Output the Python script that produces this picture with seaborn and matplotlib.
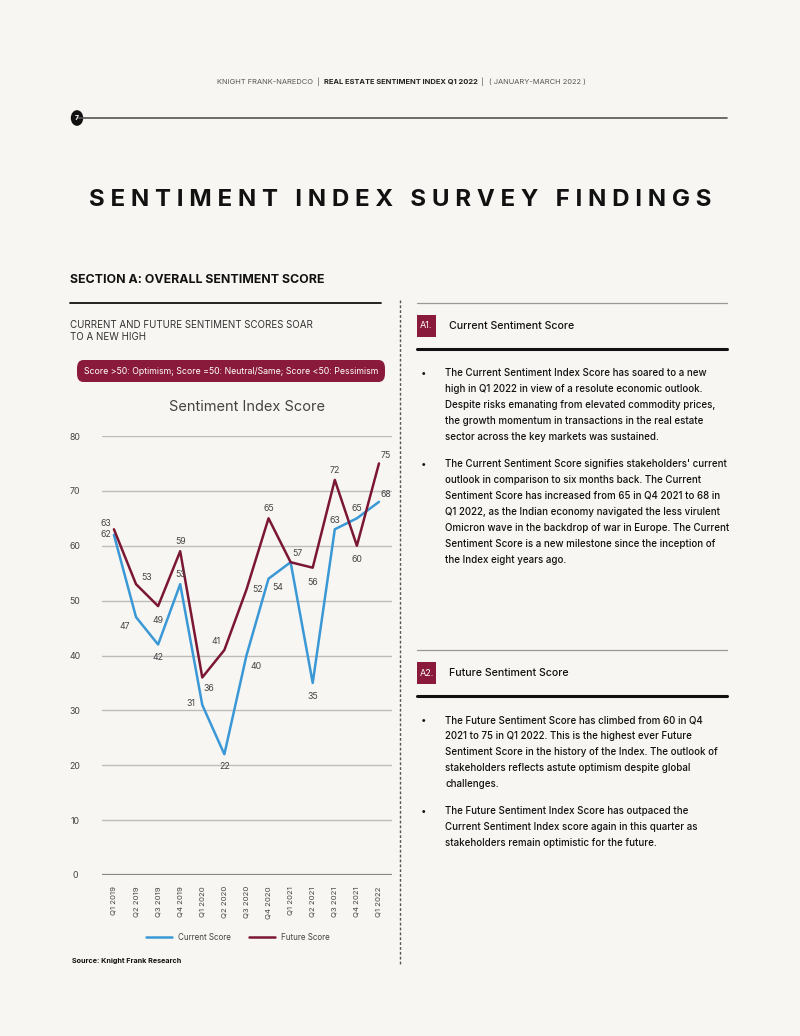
import numpy as np
import pandas as pd
import matplotlib.pyplot as plt
import seaborn as sns
from matplotlib.patches import FancyBboxPatch, Rectangle, Circle
from matplotlib.lines import Line2D

# ---- data ----
quarters = ["Q1 2019", "Q2 2019", "Q3 2019", "Q4 2019", "Q1 2020", "Q2 2020", "Q3 2020",
            "Q4 2020", "Q1 2021", "Q2 2021", "Q3 2021", "Q4 2021", "Q1 2022"]
current_score = [62, 47, 42, 53, 31, 22, 40, 54, 57, 35, 63, 65, 68]
future_score = [63, 53, 49, 59, 36, 41, 52, 65, 57, 56, 72, 60, 75]
y_ticks = [0, 10, 20, 30, 40, 50, 60, 70, 80]

# label offsets in points (dx, dy) for each data label
cur_offsets = [(-6, 0), (-8, -7), (0, -9), (0, 7), (-8, 1), (0, -9), (7, -8), (7, -6),
               (0, 0), (0, -10), (0, 6), (0, 7), (5, 5)]
fut_offsets = [(-6, 4), (8, 5), (0, -10), (0, 7), (5, -8), (-6, 6), (8, 0), (0, 7),
               (5, 6), (0, -11), (0, 7), (0, -10), (5, 6)]
skip_cur = {8}  # Q1 2021 shares one label

BLUE = "#3b98d6"
MAROON = "#7b1733"
BG = "#f7f6f2"
TXT = "#222222"
GRAY = "#555555"

sns.set_theme(style="white")
plt.rcParams["font.family"] = ["Inter", "DejaVu Sans"]

fig = plt.figure(figsize=(8, 10.36), dpi=100, facecolor=BG)


def P(x, y):
    return x / 800, 1 - y / 1036


def hline(x0, x1, y, color, lw, ls="-"):
    fig.add_artist(Line2D([x0 / 800, x1 / 800], [1 - y / 1036, 1 - y / 1036],
                          color=color, lw=lw, ls=ls, transform=fig.transFigure))


# ---- page header ----
fig.text(*P(313, 82), "KNIGHT FRANK-NAREDCO", fontsize=5.4, color=GRAY, va="center", ha="right")
fig.text(*P(318, 82), "|", fontsize=5.4, color=GRAY, va="center", ha="center")
fig.text(*P(401, 82), "REAL ESTATE SENTIMENT INDEX Q1 2022", fontsize=5.4, color=TXT,
         va="center", ha="center", weight="bold")
fig.text(*P(482, 82), "|", fontsize=5.4, color=GRAY, va="center", ha="center")
fig.text(*P(489, 82), "( JANUARY-MARCH 2022 )", fontsize=5.4, color=GRAY, va="center", ha="left")
hline(77, 727, 118, "#555555", 1.2)
fig.add_artist(Circle(P(77, 118), 5.5 / 800, transform=fig.transFigure, color="#111111"))
fig.text(*P(77, 118.5), "7", fontsize=5, color="white", ha="center", va="center", weight="bold")

fig.text(*P(400, 200), "S E N T I M E N T   I N D E X   S U R V E Y   F I N D I N G S",
         fontsize=17.3, color="#111111", ha="center", va="center", weight="bold")

# ---- left column ----
fig.text(*P(70, 280), "SECTION A: OVERALL SENTIMENT SCORE", fontsize=8.9, color="#111111",
         ha="left", va="center", weight="bold")
hline(70, 381, 303, "#111111", 1.3)
fig.text(*P(70, 331), "CURRENT AND FUTURE SENTIMENT SCORES SOAR\nTO A NEW HIGH", fontsize=7.0,
         color="#333333", ha="left", va="center", linespacing=1.25)
fig.add_artist(FancyBboxPatch(P(77, 382), 308 / 800, 22 / 1036, transform=fig.transFigure,
                              boxstyle="round,pad=0,rounding_size=0.008", color="#8a1a3b", lw=0))
fig.text(*P(231, 371), "Score >50: Optimism; Score =50: Neutral/Same; Score <50: Pessimism",
         fontsize=6.3, color="white", ha="center", va="center")

# dashed divider
fig.add_artist(Line2D([400 / 800] * 2, [1 - 300 / 1036, 1 - 965 / 1036], color="#555555",
                      lw=1, ls=(0, (2, 1.5)), transform=fig.transFigure))

# ---- chart ----
ax = fig.add_axes([102 / 800, 1 - 875 / 1036, 290 / 800, 439 / 1036])
ax.set_facecolor(BG)
xs = np.arange(len(quarters))
df = pd.DataFrame({
    "x": np.concatenate([xs, xs]),
    "score": current_score + future_score,
    "series": ["Current Score"] * len(xs) + ["Future Score"] * len(xs),
})
for yv in y_ticks:
    ax.axhline(yv, color="#888888" if yv == 0 else "#bdbdbd", lw=1.6 if yv == 0 else 1, zorder=0)
sns.lineplot(data=df, x="x", y="score", hue="series", palette=[BLUE, MAROON], lw=1.8, ax=ax,
             legend=False)

for i, (v, off) in enumerate(zip(current_score, cur_offsets)):
    if i in skip_cur:
        continue
    ax.annotate(str(v), (i, v), xytext=off, textcoords="offset points", ha="center",
                va="center", fontsize=6.3, color="#444444")
for i, (v, off) in enumerate(zip(future_score, fut_offsets)):
    ax.annotate(str(v), (i, v), xytext=off, textcoords="offset points", ha="center",
                va="center", fontsize=6.3, color="#444444")

ax.set_xlim(-0.54, 12.59)
ax.set_ylim(0, 80)
ax.set_yticks(y_ticks)
ax.set_yticklabels([str(t) for t in y_ticks], fontsize=6.3, color="#444444", ha="center")
ax.set_xticks(xs)
ax.set_xticklabels(quarters, rotation=90, fontsize=5.6, color="#444444")
ax.tick_params(axis="y", length=0, pad=19.5)
ax.tick_params(axis="x", length=0, pad=8)
ax.set_xlabel("")
ax.set_ylabel("")
sns.despine(ax=ax, left=True, bottom=True)
ax.set_title("Sentiment Index Score", fontsize=10.5, color="#444444", pad=18, x=0.5)

handles = [Line2D([], [], color=BLUE, lw=1.8), Line2D([], [], color=MAROON, lw=1.8)]
fig.legend(handles, ["Current Score", "Future Score"], loc="center", bbox_to_anchor=P(238, 937),
           ncol=2, frameon=False, fontsize=5.8, handlelength=3.2, columnspacing=2.2,
           labelcolor="#444444")

fig.text(*P(72, 961), "Source: Knight Frank Research", fontsize=5.2, color="#111111",
         ha="left", va="center", weight="bold")

# ---- right column ----
def section(y_top, tag, title, paragraphs):
    hline(417, 727, y_top, "#999999", 0.9)
    fig.add_artist(Rectangle(P(417, y_top + 34), 19 / 800, 22 / 1036, transform=fig.transFigure,
                             color="#8a1a3b", lw=0))
    fig.text(*P(426.5, y_top + 23), tag, fontsize=6.5, color="white", ha="center", va="center")
    fig.text(*P(449, y_top + 23), title, fontsize=7.6, color="#111111", ha="left", va="center",
             weight="medium")
    hline(417, 727, y_top + 46, "#111111", 2.2)
    y = y_top + 70
    for lines in paragraphs:
        fig.text(*P(424, y), "\u2022", fontsize=7, color="#111111", ha="center", va="center")
        for ln in lines:
            fig.text(*P(445, y), ln, fontsize=7.0, color="#111111", ha="left", va="center",
                     weight="medium")
            y += 16.1
        y += 10


section(303, "A1.", "Current Sentiment Score", [
    ["The Current Sentiment Index Score has soared to a new",
     "high in Q1 2022 in view of a resolute economic outlook.",
     "Despite risks emanating from elevated commodity prices,",
     "the growth momentum in transactions in the real estate",
     "sector across the key markets was sustained."],
    ["The Current Sentiment Score signifies stakeholders' current",
     "outlook in comparison to six months back. The Current",
     "Sentiment Score has increased from 65 in Q4 2021 to 68 in",
     "Q1 2022, as the Indian economy navigated the less virulent",
     "Omicron wave in the backdrop of war in Europe. The Current",
     "Sentiment Score is a new milestone since the inception of",
     "the Index eight years ago."],
])
section(650, "A2.", "Future Sentiment Score", [
    ["The Future Sentiment Score has climbed from 60 in Q4",
     "2021 to 75 in Q1 2022. This is the highest ever Future",
     "Sentiment Score in the history of the Index. The outlook of",
     "stakeholders reflects astute optimism despite global",
     "challenges."],
    ["The Future Sentiment Index Score has outpaced the",
     "Current Sentiment Index score again in this quarter as",
     "stakeholders remain optimistic for the future."],
])

fig.savefig("out.png", dpi=100, facecolor=BG)
